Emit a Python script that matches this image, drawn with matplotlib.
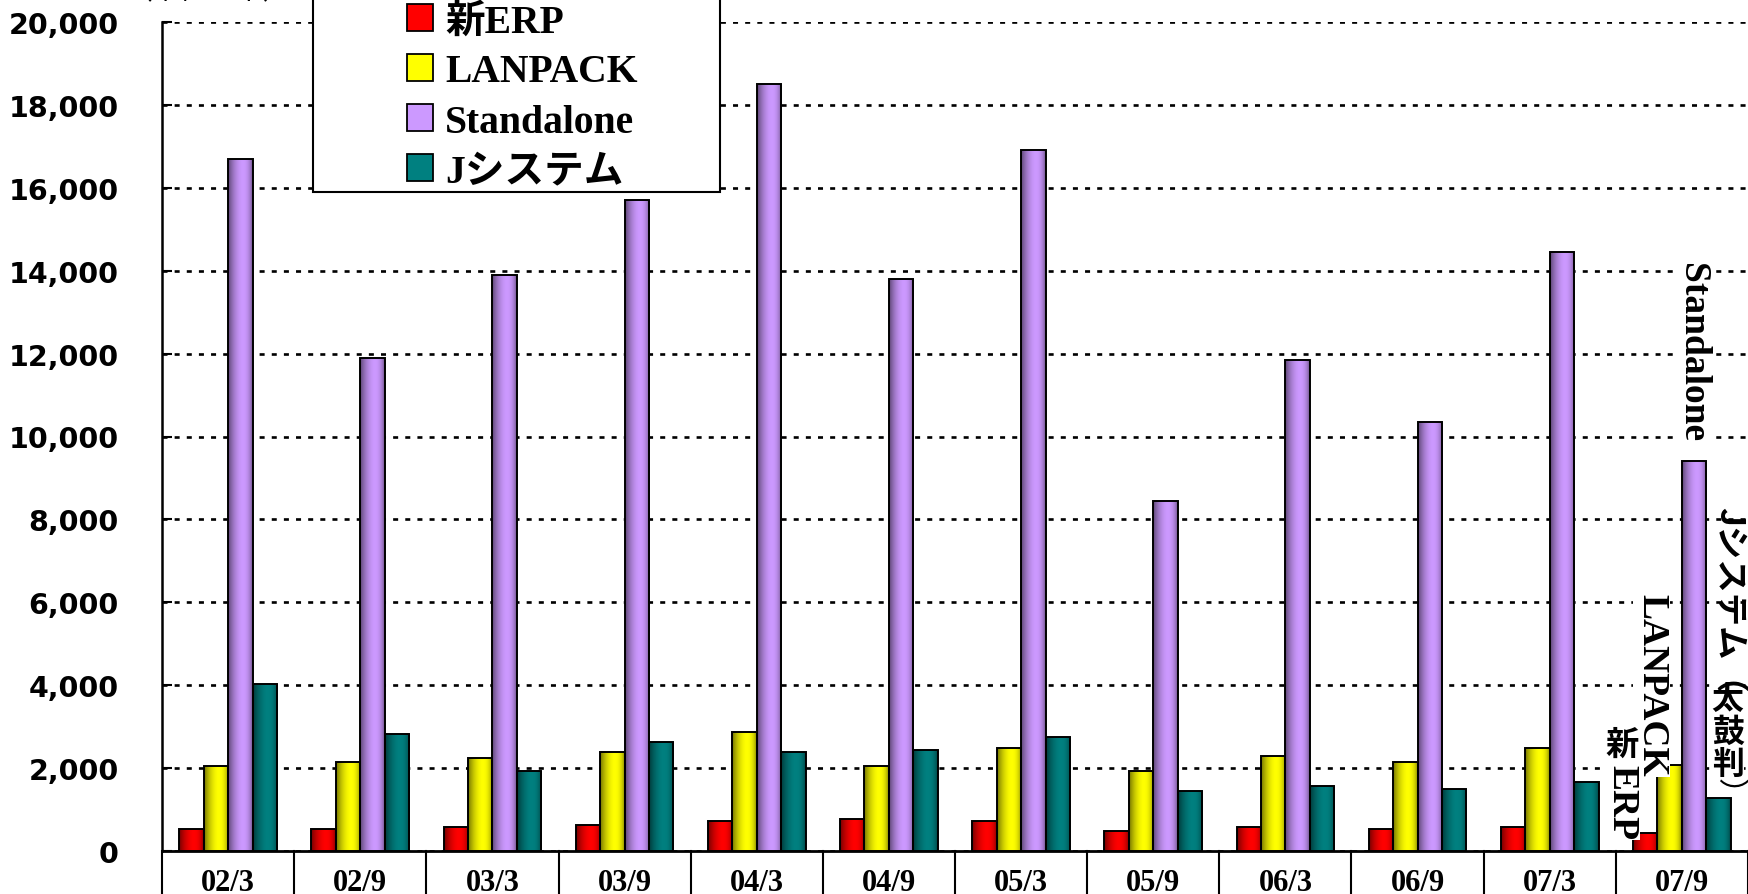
import numpy as np
import matplotlib
matplotlib.use('Agg')
import matplotlib.pyplot as plt
import matplotlib.colors as mcolors
from matplotlib.patches import Rectangle, Patch
from matplotlib.font_manager import FontProperties
from matplotlib.transforms import blended_transform_factory

# -----------------------------
# Data
# -----------------------------
periods = ['02/3', '02/9', '03/3', '03/9', '04/3', '04/9',
           '05/3', '05/9', '06/3', '06/9', '07/3', '07/9']
new_erp = [530, 520, 585, 635, 730, 770, 730, 490, 585, 530, 585, 435]
lanpack = [2050, 2150, 2250, 2400, 2870, 2050, 2480, 1920, 2300, 2150, 2480, 2080]
standalone = [16700, 11900, 13900, 15700, 18500, 13800, 16900, 8450, 11850, 10350, 14450, 9400]
j_system = [4030, 2820, 1920, 2630, 2380, 2430, 2760, 1455, 1560, 1505, 1655, 1270]

series_names = ['新ERP', 'LANPACK', 'Standalone', 'Jシステム']
series_colors = ['#FF0000', '#FFFF00', '#CC99FF', '#008080']

W, H = 1749, 895
PX = 0.72  # points per pixel at dpi 100

serif_b = dict(family=['Liberation Serif', 'Noto Sans CJK JP'], weight='bold')


def shade_bar(ax, bar, color):
    # cylinder-like shading: dark edges, highlight a bit right of centre
    x0, y0 = bar.get_xy()
    w, h = bar.get_width(), bar.get_height()
    rgb = np.array(mcolors.to_rgb(color))
    t = np.linspace(0, 1, 64)
    f = 0.42 + 0.58 * np.sin(np.pi * t ** 1.36) ** 0.55
    img = (rgb[None, :] * f[:, None])[None, :, :]
    im = ax.imshow(img, extent=(x0, x0 + w, y0, y0 + h), aspect='auto',
                   interpolation='bilinear', zorder=2.9)
    im.set_clip_path(bar)


fig = plt.figure(figsize=(W / 100, H / 100), dpi=100)
ax = fig.add_axes([162 / W, 43 / H, 1586 / W, 829 / H])

x = np.arange(len(periods))
bw = 0.185
all_series = [new_erp, lanpack, standalone, j_system]
for i, (vals, col) in enumerate(zip(all_series, series_colors)):
    bars = ax.bar(x + (i - 1.5) * bw, vals, bw, facecolor='none',
                  edgecolor='black', linewidth=1.4, zorder=3)
    for b in bars:
        shade_bar(ax, b, col)

ax.set_xlim(-0.5, len(periods) - 0.5)
ax.set_ylim(0, 20000)
ax.set_aspect('auto')

# axes styling
for s in ['top', 'right']:
    ax.spines[s].set_visible(False)
ax.spines['left'].set_linewidth(1.8)
ax.spines['bottom'].set_linewidth(2.0)

ax.set_yticks(np.arange(0, 20001, 2000))
ax.set_yticklabels([f'{v:,}' for v in range(0, 20001, 2000)],
                   fontfamily='DejaVu Sans', fontweight='bold', fontsize=20.5)
ax.tick_params(axis='y', direction='in', length=7, width=1.5, pad=31)
ax.set_axisbelow(True)
ax.yaxis.grid(True, color='black', linestyle=(0, (1.9, 2.7)), linewidth=1.9)

ax.set_xticks(x)
ax.set_xticklabels(periods, fontsize=22, fontfamily=serif_b['family'],
                   fontweight='bold')
ax.tick_params(axis='x', length=0, pad=12)

# table-like cell borders under the x axis
trans = blended_transform_factory(ax.transData, ax.transAxes)
for b in np.arange(len(periods) + 1) - 0.5:
    ax.plot([b, b], [0, -0.1], transform=trans, color='black', lw=1.5,
            clip_on=False, zorder=5)

# unit label (cut off at the top)
fig.text(125 / W, 1 - 6 / H, '（単位：本）', va='bottom', ha='left',
         fontsize=20, family=['Noto Sans CJK JP'])

# legend with manual frame
frame = Rectangle((313 / W, 1 - 193 / H), 407 / W, 0.3, transform=fig.transFigure,
                  facecolor='white', edgecolor='black', linewidth=1.5, zorder=5)
fig.patches.append(frame)
handles = [Patch(facecolor=c, edgecolor='black', linewidth=1.3) for c in series_colors]
leg = fig.legend(handles, series_names, loc='center left',
                 bbox_to_anchor=(407 / W, 1 - 98 / H), frameon=False,
                 prop=FontProperties(family=serif_b['family'], weight='bold', size=28.5),
                 handlelength=0.66, handleheight=0.66, handletextpad=0.3,
                 labelspacing=0.33, borderpad=0, borderaxespad=0)
leg.set_zorder(6)

# rotated series labels beside the last group
last = len(periods) - 1
lbl_box = dict(facecolor='white', edgecolor='none', pad=0.5)
tight_box = dict(facecolor='white', edgecolor='none', pad=0)

ax.annotate('Standalone', xy=(last + 0.5 * bw, standalone[last]),
            xytext=(-2 * PX, 20 * PX), textcoords='offset points',
            rotation=-90, ha='center', va='bottom', fontsize=27,
            bbox=lbl_box, zorder=4, **serif_b)
ax.annotate('LANPACK', xy=(last - 0.5 * bw, lanpack[last]),
            xytext=(-18 * PX, -11 * PX), textcoords='offset points',
            rotation=-90, ha='center', va='bottom', fontsize=27,
            bbox=lbl_box, zorder=4, **serif_b)
ax.annotate('ERP', xy=(last - 1.5 * bw, new_erp[last]),
            xytext=(-23 * PX, -6 * PX), textcoords='offset points',
            rotation=-90, ha='center', va='bottom', fontsize=27,
            bbox=lbl_box, zorder=4, **serif_b)
ax.annotate('新', xy=(last - 1.5 * bw, new_erp[last]),
            xytext=(-23 * PX, 72 * PX), textcoords='offset points',
            ha='center', va='bottom', fontsize=24, fontweight='bold',
            family=['Noto Sans CJK JP'], bbox=tight_box, zorder=4)

jx = last + 1.5 * bw
for ch, off in zip('太鼓判', [99, 66, 33]):
    ax.annotate(ch, xy=(jx, j_system[last]), xytext=(9 * PX, off * PX),
                textcoords='offset points', ha='center', va='center',
                fontsize=23, fontweight='bold', family=['Noto Sans CJK JP'],
                bbox=tight_box, zorder=4)
ax.annotate('Jシステム（', xy=(jx, j_system[last]),
            xytext=(10 * PX, 292 * PX), textcoords='offset points',
            rotation=-90, ha='center', va='top', fontsize=24, fontweight='bold',
            family=['Noto Sans CJK JP'], zorder=4.6)
ax.annotate('）', xy=(jx, j_system[last]), xytext=(10 * PX, 6 * PX),
            textcoords='offset points', rotation=-90, ha='center', va='center',
            fontsize=22, family=['Noto Sans CJK JP'], zorder=4.6)

fig.savefig('out.png', dpi=100)
